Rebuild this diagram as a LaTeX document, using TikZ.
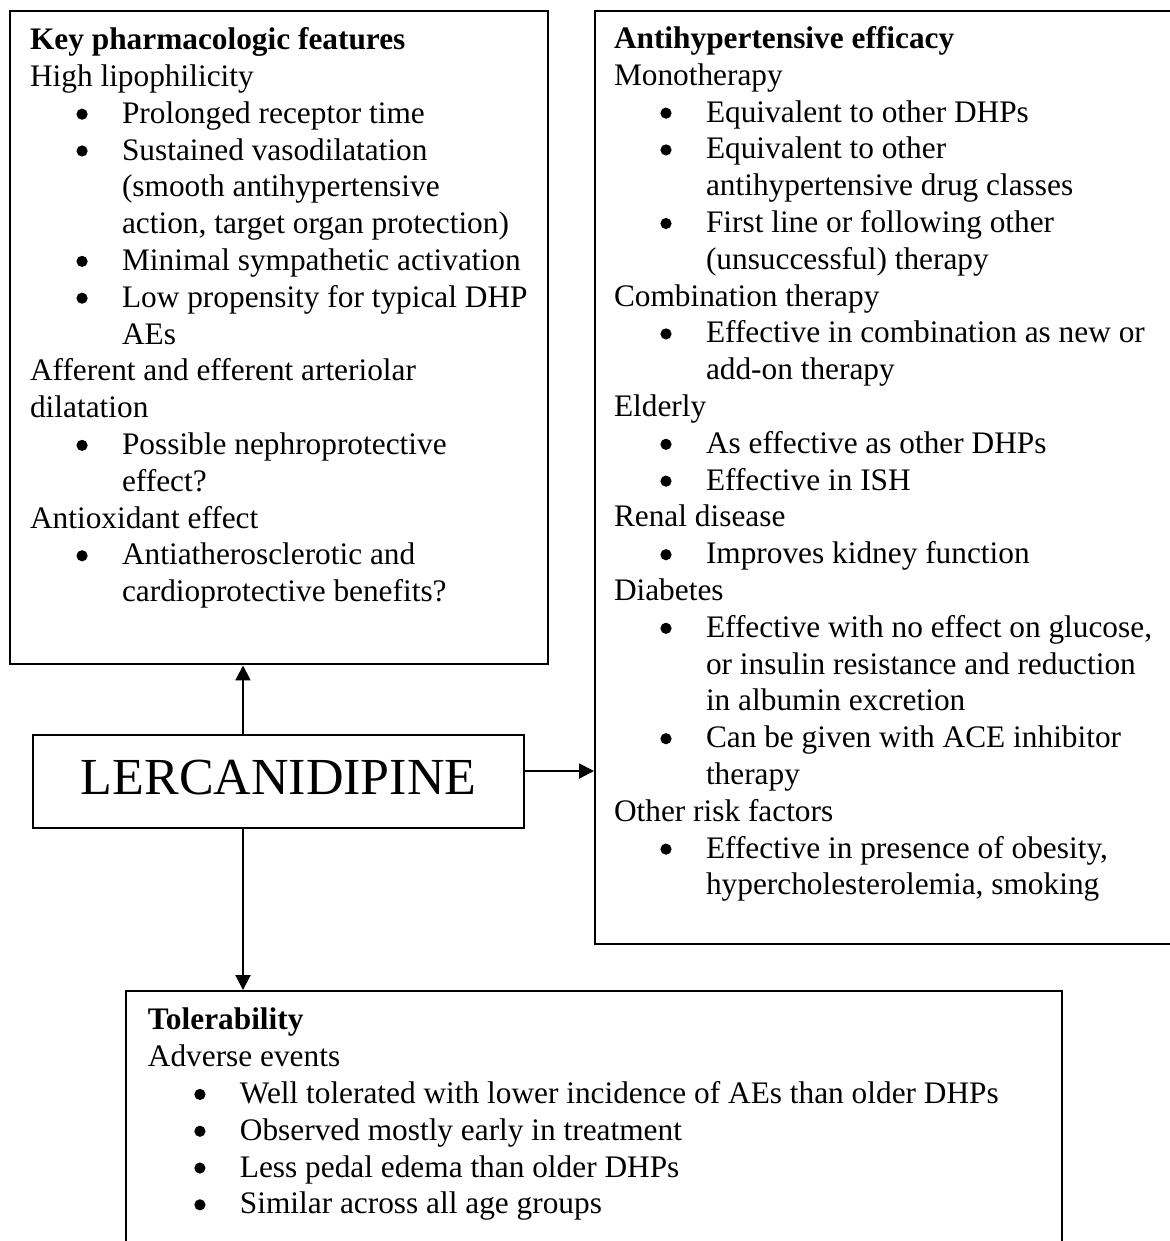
\documentclass[tikz,border=0pt]{standalone}
\usepackage{fontspec}
\setmainfont{Liberation Serif}
\usetikzlibrary{positioning,arrows.meta}
\newcommand\bul{\hspace*{17.4pt}\makebox[17.1pt][l]{\tikz[baseline=-3.4pt]\fill (0,0) circle (2.1pt);}}
\newcommand\ind{\hspace*{34.5pt}}

\begin{document}
\begin{tikzpicture}[x=0.375pt, y=-0.375pt, % 按像素取坐标
    panel/.style={draw, line width=0.9pt, anchor=north west, inner sep=0pt},
    txt/.style={anchor=north west, inner sep=0pt, outer sep=0pt, align=left,
      font=\fontsize{11.75pt}{13.8pt}\selectfont},
    arr/.style={-{Triangle[length=5.6pt,width=5.6pt]}, line width=0.8pt}]
  \useasboundingbox (0,0) rectangle (1170,1241);
  \clip (0,0) rectangle (1170,1241);
  % 中间的药名
  \node[panel, minimum width=184.1pt, minimum height=34.9pt,
    font=\fontsize{19.5pt}{24pt}\selectfont, text height=13.3pt, text depth=3.9pt]
    (lerc) at (32,734) {LERCANIDIPINE};
  % 左上：药理特点
  \node[panel, minimum width=201.75pt, minimum height=244.9pt] (feat) at (9,10) {};
  \node[txt, below right=5.2pt and 7.9pt of feat.north west] (feattxt) {%
    \strut\textbf{Key pharmacologic features}\\
    High lipophilicity\\
    \bul Prolonged receptor time\\
    \bul Sustained vasodilatation\\
    \ind (smooth antihypertensive\\
    \ind action, target organ protection)\\
    \bul Minimal sympathetic activation\\
    \bul Low propensity for typical DHP\\
    \ind AEs\\
    Afferent and efferent arteriolar\\
    dilatation\\
    \bul Possible nephroprotective\\
    \ind effect?\\
    Antioxidant effect\\
    \bul Antiatherosclerotic and\\
    \ind cardioprotective benefits?};
  % 右边：降压疗效
  \node[panel, minimum width=220pt, minimum height=349.9pt] (effic) at (594,10) {};
  \node[txt, below right=4.8pt and 7.5pt of effic.north west] (effictxt) {%
    \strut\textbf{Antihypertensive efficacy}\\
    Monotherapy\\
    \bul Equivalent to other DHPs\\
    \bul Equivalent to other\\
    \ind antihypertensive drug classes\\
    \bul First line or following other\\
    \ind (unsuccessful) therapy\\
    Combination therapy\\
    \bul Effective in combination as new or\\
    \ind add-on therapy\\
    Elderly\\
    \bul As effective as other DHPs\\
    \bul Effective in ISH\\
    Renal disease\\
    \bul Improves kidney function\\
    Diabetes\\
    \bul Effective with no effect on glucose,\\
    \ind or insulin resistance and reduction\\
    \ind in albumin excretion\\
    \bul Can be given with ACE inhibitor\\
    \ind therapy\\
    Other risk factors\\
    \bul Effective in presence of obesity,\\
    \ind hypercholesterolemia, smoking};
  % 下边：耐受性
  \node[panel, minimum width=351pt, minimum height=101.25pt] (toler) at (125,990) {};
  \node[txt, below right=5.3pt and 8.6pt of toler.north west] (tolertxt) {%
    \strut\textbf{Tolerability}\\
    Adverse events\\
    \bul Well tolerated with lower incidence of AEs than older DHPs\\
    \bul Observed mostly early in treatment\\
    \bul Less pedal edema than older DHPs\\
    \bul Similar across all age groups};
  % 箭头
  \coordinate (ax) at (243,0);
  \coordinate (ay) at (0,771);
  \draw[arr] (lerc.north -| ax) -- (feat.south -| ax);
  \draw[arr] (lerc.east |- ay) -- (effic.west |- ay);
  \draw[arr] (lerc.south -| ax) -- (toler.north -| ax);
\end{tikzpicture}
\end{document}
